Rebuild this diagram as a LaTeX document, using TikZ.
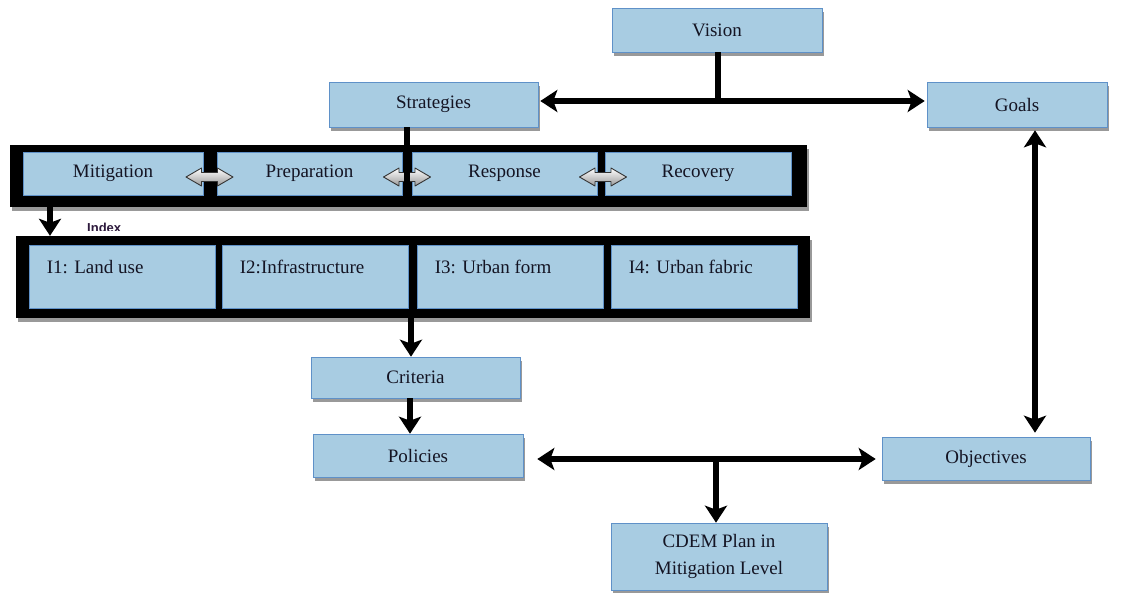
\documentclass[tikz,border=0pt]{standalone}
\usepackage{fontspec}
\setmainfont{Liberation Serif}
\newfontfamily\serifx{Liberation Serif}
\newfontfamily\idxfont{Liberation Sans}
\usetikzlibrary{arrows.meta,shadows}
\definecolor{boxblue}{RGB}{168,204,226}
\definecolor{boxedge}{RGB}{95,145,200}
\definecolor{txt}{RGB}{20,20,35}
\definecolor{idxcol}{RGB}{45,25,60}
\tikzset{
  shad/.style={drop shadow={shadow xshift=2pt, shadow yshift=-4pt, fill=black!40, opacity=1}},
  box/.style={draw=boxedge, line width=0.6pt, fill=boxblue, inner sep=0pt, text=txt,
    font=\serifx\fontsize{19}{27}\selectfont, align=center, shad},
  inbox/.style={draw=boxedge, line width=0.6pt, fill=boxblue, inner sep=0pt, text=txt,
    font=\serifx\fontsize{19}{27}\selectfont},
  ilabel/.style={label={[anchor=north west, inner sep=0pt, xshift=18pt, yshift=-15pt,
    text=txt, font=\serifx\fontsize{19}{27}\selectfont]north west:#1}},
  blackframe/.style={fill=black, draw=none, inner sep=0pt, shad},
  tipA/.tip={Stealth[length=17pt,width=22pt,inset=4pt]},
  arr/.style={line width=5.5pt, -tipA},
  darr/.style={line width=5.5pt, tipA-tipA},
  plainline/.style={line width=5.5pt},
  blockarrow/.style={draw=black!80, line width=0.9pt, top color=white, bottom color=black!40,
    line join=round},
}
\newcommand\dblockarrow[1]{%
  \draw[blockarrow, shift={(#1)}] (-23.5,0) -- (-8,-9) -- (-8,-4.5) -- (8,-4.5) -- (8,-9)
    -- (23.5,0) -- (8,9) -- (8,4.5) -- (-8,4.5) -- (-8,9) -- cycle;}
\begin{document}
\begin{tikzpicture}[x=1pt,y=-1pt]
\useasboundingbox (0,0) rectangle (1129,592);

% top level boxes
\node[box, minimum width=210pt, minimum height=44pt] (vision) at (717,30) {Vision};
\node[box, minimum width=209pt, minimum height=45pt] (strat) at (433.5,104.5) {Strategies};
\node[box, minimum width=180pt, minimum height=45pt] (goals) at (1017,104.5) {Goals};

% phase frame
\node[blackframe, minimum width=797pt, minimum height=62pt] (f1) at (408.5,176) {};
\node[inbox, minimum width=180pt, minimum height=43pt] (mit) at (113,173.5) {Mitigation};
\node[inbox, minimum width=185pt, minimum height=43pt] (prep) at (309.5,173.5) {Preparation};
\node[inbox, minimum width=185pt, minimum height=43pt] (resp) at (504.5,173.5) {Response};
\node[inbox, minimum width=186pt, minimum height=43pt] (rec) at (698,173.5) {Recovery};
\coordinate (ba1) at (209.5,177);
\coordinate (ba2) at (407,177);
\coordinate (ba3) at (603,177);
\dblockarrow{ba1}
\dblockarrow{ba2}
\dblockarrow{ba3}

% index label (partly hidden)
\begin{scope}
  \clip (80,212) rectangle (140,230);
  \node[anchor=west, inner sep=0pt, text=idxcol, font=\idxfont\bfseries\fontsize{13}{15}\selectfont] (idx) at (87,228) {Index};
\end{scope}

% index frame
\node[blackframe, minimum width=794pt, minimum height=82pt] (f2) at (413,277) {};
\node[inbox, minimum width=186pt, minimum height=63pt, ilabel={I1: Land use}] (i1) at (122,276.5) {};
\node[inbox, minimum width=186pt, minimum height=63pt, ilabel={I2:Infrastructure}] (i2) at (315,276.5) {};
\node[inbox, minimum width=186pt, minimum height=63pt, ilabel={I3: Urban form}] (i3) at (510,276.5) {};
\node[inbox, minimum width=186pt, minimum height=63pt, ilabel={I4: Urban fabric}] (i4) at (704,276.5) {};

% lower boxes
\node[box, minimum width=209pt, minimum height=41pt] (criteria) at (415.5,377.5) {Criteria};
\node[box, minimum width=210pt, minimum height=43pt] (policies) at (418,455.5) {Policies};
\node[box, minimum width=208pt, minimum height=43pt] (objectives) at (986,458.5) {Objectives};
\node[box, minimum width=216pt, minimum height=67pt] (cdem) at (719,556.5) {CDEM Plan in\\Mitigation Level};

% helper coordinates
\coordinate (tj) at (718,101);
\coordinate (sx) at (407,0);
\coordinate (mx) at (50,0);
\coordinate (cx) at (411,0);
\coordinate (px) at (410,0);
\coordinate (bj) at (716,459);
\coordinate (gx) at (1035,0);

% connectors
\draw[plainline] (vision.south -| tj) -- (tj);
\draw[darr, shorten <=2pt, shorten >=2pt] (strat.east |- tj) -- (goals.west |- tj);
\draw[plainline] (strat.south -| sx) -- ([yshift=-22pt]f1.center -| sx);
\draw[arr, shorten <=-2pt] (f1.south -| mx) -- (f2.north -| mx);
\draw[arr, shorten <=-2pt] (f2.south -| cx) -- (criteria.north -| cx);
\draw[arr] (criteria.south -| px) -- (policies.north -| px);
\draw[darr, shorten <=14pt, shorten >=6pt] (policies.east |- bj) -- (objectives.west |- bj);
\draw[arr] (bj) -- (cdem.north -| bj);
\draw[darr, shorten <=3pt, shorten >=4pt] (goals.south -| gx) -- (objectives.north -| gx);
\end{tikzpicture}
\end{document}
